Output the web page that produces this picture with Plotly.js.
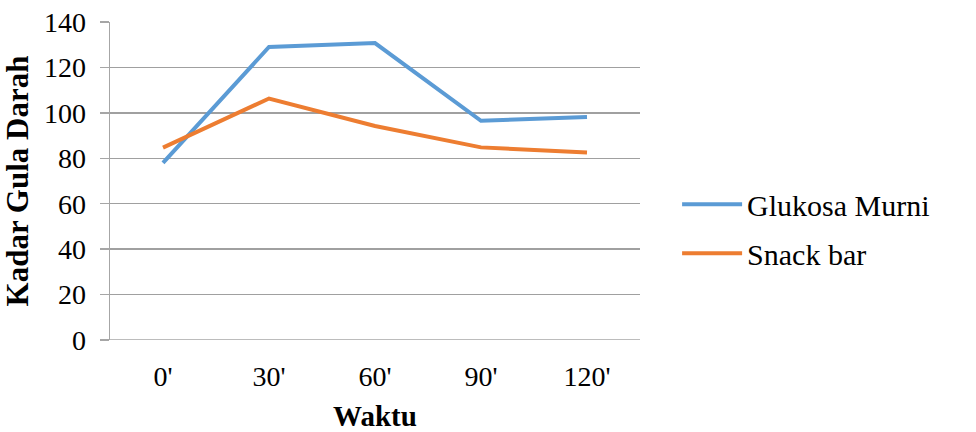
<!DOCTYPE html>
<html>
<head>
<meta charset="utf-8">
<script src="https://cdn.plot.ly/plotly-3.0.1.min.js"></script>
<style>html,body{margin:0;padding:0;background:#fff;}#chart{width:976px;height:432px;}</style>
</head>
<body>
<div id="chart"></div>
<script>
const categories = ["0'", "30'", "60'", "90'", "120'"];
const glukosaMurni = [78, 129, 130.7, 96.5, 98.2];
const snackBar = [84.7, 106.3, 94.2, 84.8, 82.5];
const seriesNames = ["Glukosa Murni", "Snack bar"];
const yTicks = [0, 20, 40, 60, 80, 100, 120, 140];

const font = "'Liberation Serif', 'Times New Roman', serif";
const traces = [
  {x: categories, y: glukosaMurni, name: seriesNames[0], type: "scatter", mode: "lines",
   line: {color: "#5B9BD5", width: 4}, legendgroup: "a"},
  {x: categories, y: snackBar, name: seriesNames[1], type: "scatter", mode: "lines",
   line: {color: "#ED7D31", width: 4}, legendgroup: "b"}
];
const layout = {
  width: 976, height: 432,
  margin: {l: 110, r: 336, t: 22, b: 92},
  paper_bgcolor: "#fff", plot_bgcolor: "#fff",
  font: {family: font, size: 28, color: "#000"},
  showlegend: true,
  legend: {x: 1.07, xanchor: "left", y: 0.35, yanchor: "middle", xref: "paper", yref: "paper",
           font: {family: font, size: 30, color: "#000"}, tracegroupgap: 7, itemwidth: 60,
           bgcolor: "rgba(0,0,0,0)"},
  xaxis: {type: "category", range: [-0.5, 4.5], showgrid: false, zeroline: false,
          showline: false, ticks: "", ticklabelstandoff: 17,
          tickfont: {family: font, size: 28},
          title: {text: "<b>Waktu</b>", font: {family: font, size: 29}, standoff: 18}},
  yaxis: {range: [0, 140], tickvals: yTicks, showgrid: true, gridcolor: "#a0a0a0", gridwidth: 1.5,
          zeroline: false, showline: true, linecolor: "#a6a6a6", linewidth: 1.5,
          ticks: "outside", ticklen: 9, tickcolor: "#a6a6a6", tickwidth: 1.5, ticklabelstandoff: 8,
          tickfont: {family: font, size: 28},
          title: {text: "<b>Kadar Gula Darah</b>", font: {family: font, size: 31}, standoff: 8}},
  shapes: [{type: "line", xref: "paper", yref: "y", x0: 0, x1: 1, y0: 0, y1: 0,
            line: {color: "#a6a6a6", width: 1.5}}]
};
Plotly.newPlot("chart", traces, layout, {displayModeBar: false, staticPlot: true});
</script>
</body>
</html>
